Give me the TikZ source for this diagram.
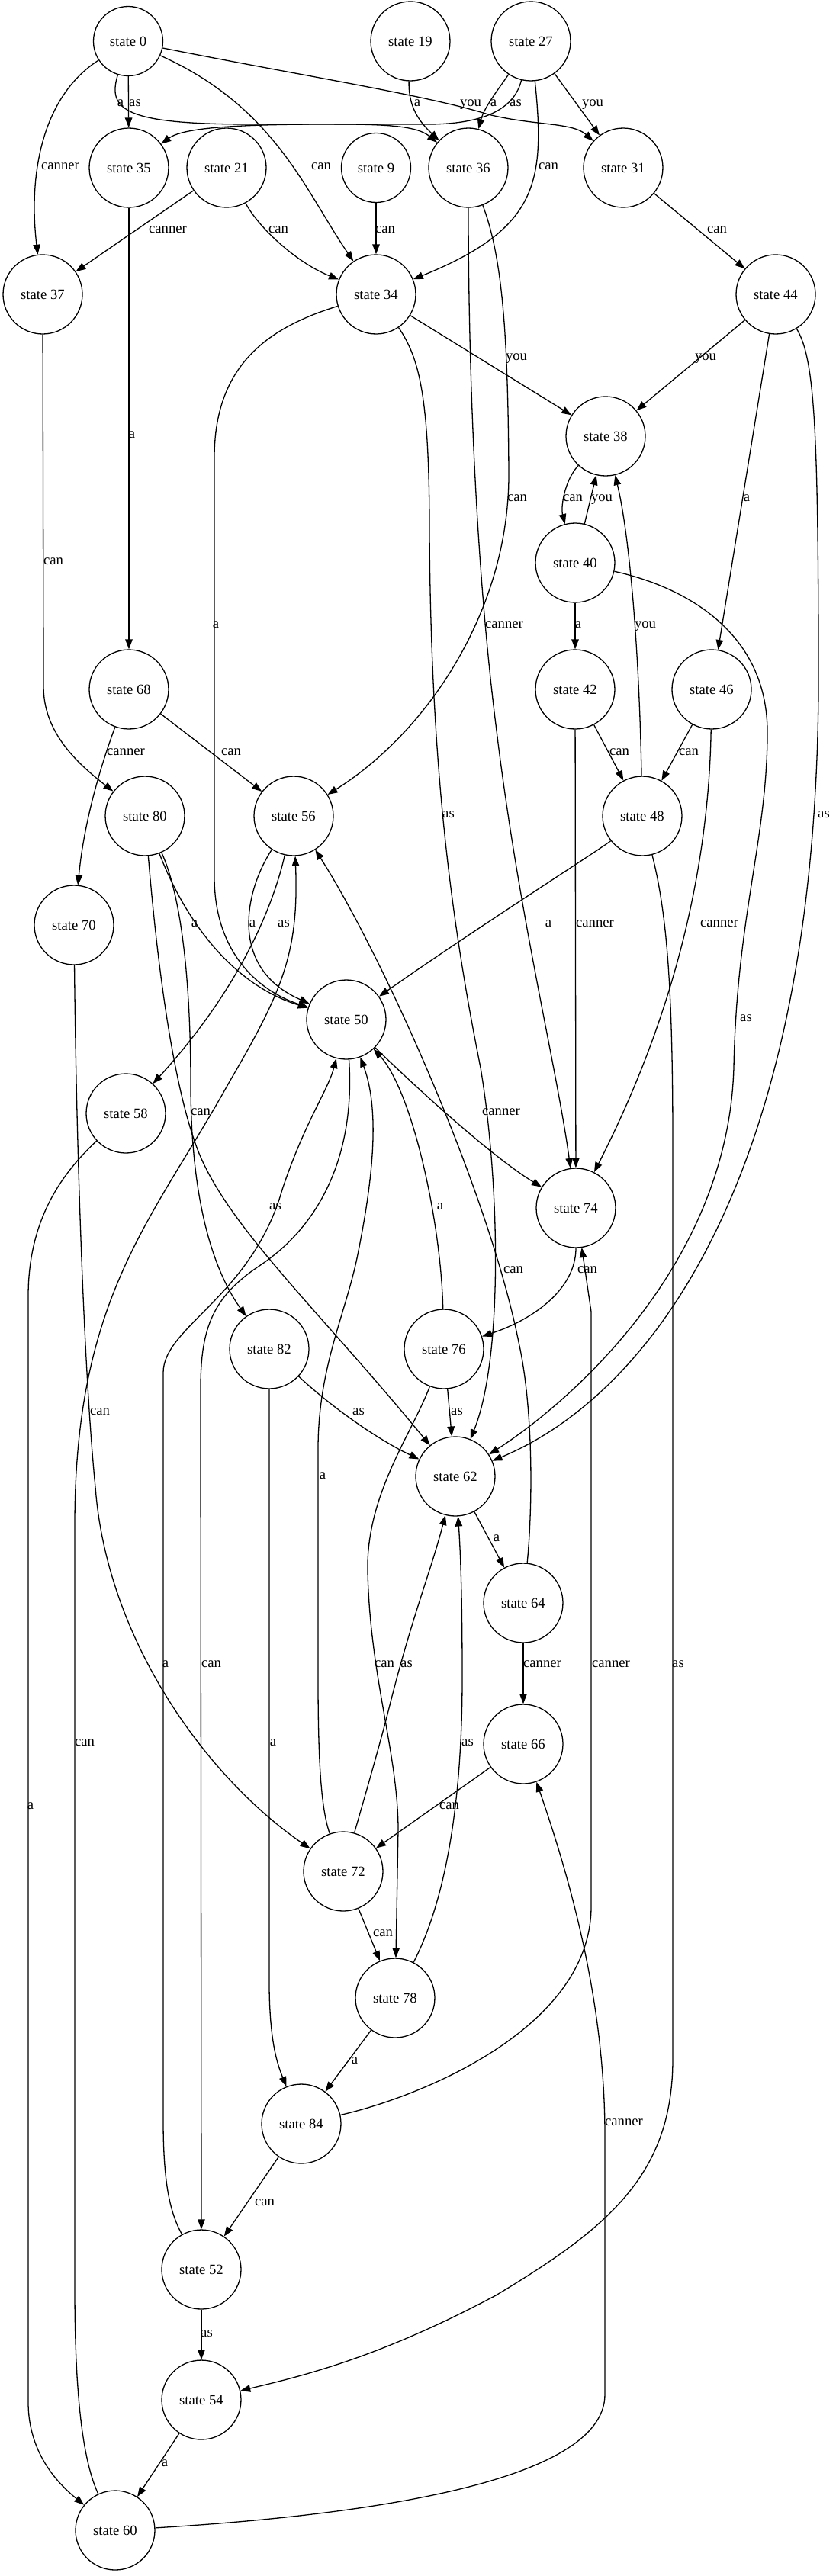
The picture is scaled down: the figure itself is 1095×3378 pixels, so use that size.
\documentclass[tikz,border=0pt]{standalone}
\usepackage{fontspec}
\setmainfont{Liberation Serif}
\usetikzlibrary{arrows.meta}
\begin{document}
\begin{tikzpicture}[x=1pt,y=-1pt,
  st/.style={circle, draw, line width=1.3pt, minimum size=104pt, inner sep=0pt, font=\fontsize{18.67}{22}\selectfont},
  sm/.style={st, minimum size=91pt},
  lbl/.style={inner sep=0pt, text height=1ex, text depth=0pt, anchor=center, font=\fontsize{18.67}{22}\selectfont},
  edg/.style={-{Triangle[length=13pt,width=9.5pt]}, line width=1.3pt}]
\useasboundingbox (0,0) rectangle (1095,3378);
% nodes
\node[sm] (n0) at (168,54) {state 0};
\node[st] (n19) at (538,54) {state 19};
\node[st] (n27) at (696,54) {state 27};
\node[st] (n35) at (169,220) {state 35};
\node[st] (n21) at (297,220) {state 21};
\node[sm] (n9) at (493,220) {state 9};
\node[st] (n36) at (614,220) {state 36};
\node[st] (n31) at (817,220) {state 31};
\node[st] (n37) at (56,386) {state 37};
\node[st] (n34) at (493,386) {state 34};
\node[st] (n44) at (1017,386) {state 44};
\node[st] (n38) at (794,572) {state 38};
\node[st] (n40) at (754,738) {state 40};
\node[st] (n68) at (169,904) {state 68};
\node[st] (n42) at (754,904) {state 42};
\node[st] (n46) at (933,904) {state 46};
\node[st] (n80) at (190,1070) {state 80};
\node[st] (n56) at (385,1070) {state 56};
\node[st] (n48) at (842,1070) {state 48};
\node[st] (n70) at (97,1213) {state 70};
\node[st] (n50) at (454,1337) {state 50};
\node[st] (n58) at (165,1460) {state 58};
\node[st] (n74) at (755,1584) {state 74};
\node[st] (n82) at (353,1769) {state 82};
\node[st] (n76) at (582,1769) {state 76};
\node[st] (n62) at (597,1936) {state 62};
\node[st] (n64) at (686,2102) {state 64};
\node[st] (n66) at (686,2287) {state 66};
\node[st] (n72) at (450,2454) {state 72};
\node[st] (n78) at (518,2620) {state 78};
\node[st] (n84) at (395,2785) {state 84};
\node[st] (n52) at (264,2976) {state 52};
\node[st] (n54) at (264,3147) {state 54};
\node[st] (n60) at (151,3318) {state 60};
% edges
\draw[edg] (n0) .. controls (50,130) and (38,240) .. (n37);
\draw[edg] (n0) -- (n35);
\draw[edg] (n0) .. controls (140,145) and (165,163) .. (330,163) .. controls (480,163) and (540,160) .. (n36);
\draw[edg] (n0) .. controls (360,140) and (400,250) .. (n34);
\draw[edg] (n0) .. controls (400,100) and (560,125) .. (640,150) .. controls (700,165) and (750,160) .. (n31);
\draw[edg] (n19) .. controls (535,140) and (550,160) .. (n36);
\draw[edg] (n27) .. controls (655,115) and (635,140) .. (n36);
\draw[edg] (n27) .. controls (675,140) and (640,163) .. (560,163) .. controls (400,163) and (250,160) .. (n35);
\draw[edg] (n27) .. controls (715,240) and (705,300) .. (n34);
\draw[edg] (n27) -- (n31);
\draw[edg] (n21) -- (n37);
\draw[edg] (n21) .. controls (340,300) and (390,345) .. (n34);
\draw[edg] (n9) -- (n34);
\draw[edg] (n31) -- (n44);
\draw[edg] (n34) -- (n38);
\draw[edg] (n44) -- (n38);
\draw[edg] (n44) -- (n46);
\draw[edg] (n44) .. controls (1068,470) and (1073,560) .. (1073,900) .. controls (1070,1550) and (850,1830) .. (n62);
\draw[edg] (n34) .. controls (350,430) and (281,480) .. (281,600) -- (281,1150) .. controls (281,1250) and (340,1300) .. (n50);
\draw[edg] (n34) .. controls (550,470) and (563,520) .. (563,700) .. controls (565,1000) and (590,1200) .. (630,1400) .. controls (655,1550) and (660,1780) .. (n62);
\draw[edg] (n36) .. controls (660,340) and (666,450) .. (667,620) .. controls (668,800) and (560,960) .. (n56);
\draw[edg] (n36) .. controls (614,500) and (625,750) .. (650,950) .. controls (680,1200) and (730,1400) .. (n74);
\draw[edg] (n38) .. controls (740,630) and (735,665) .. (n40);
\draw[edg] (n40) -- (n38);
\draw[edg] (n48) .. controls (838,850) and (825,700) .. (n38);
\draw[edg] (n40) -- (n42);
\draw[edg] (n40) .. controls (900,770) and (1006,830) .. (1006,960) .. controls (1006,1100) and (966,1200) .. (962,1400) .. controls (955,1650) and (760,1830) .. (n62);
\draw[edg] (n42) -- (n48);
\draw[edg] (n46) -- (n48);
\draw[edg] (n42) -- (n74);
\draw[edg] (n46) .. controls (930,1100) and (900,1300) .. (n74);
\draw[edg] (n48) .. controls (785,1115) and (620,1220) .. (n50);
\draw[edg] (n48) .. controls (875,1200) and (882,1300) .. (882,1500) -- (882,2700) .. controls (882,2850) and (800,2920) .. (650,3010) .. controls (500,3090) and (400,3115) .. (n54);
\draw[edg] (n37) -- (57,900) .. controls (57,960) and (100,1000) .. (n80);
\draw[edg] (n35) -- (n68);
\draw[edg] (n68) .. controls (130,1010) and (110,1080) .. (n70);
\draw[edg] (n68) -- (n56);
\draw[edg] (n80) .. controls (240,1200) and (300,1290) .. (n50);
\draw[edg] (n80) .. controls (205,1250) and (225,1420) .. (260,1510) .. controls (300,1610) and (420,1720) .. (n62);
\draw[edg] (n80) .. controls (240,1180) and (250,1300) .. (250,1420) .. controls (250,1600) and (290,1680) .. (n82);
\draw[edg] (n56) .. controls (320,1170) and (300,1270) .. (n50);
\draw[edg] (n56) .. controls (360,1180) and (320,1290) .. (n58);
\draw[edg] (n60) .. controls (110,3230) and (98,3150) .. (98,3000) -- (98,2000) .. controls (98,1700) and (200,1600) .. (300,1420) .. controls (370,1300) and (392,1250) .. (n56);
\draw[edg] (n50) .. controls (560,1440) and (650,1520) .. (n74);
\draw[edg] (n76) .. controls (578,1600) and (540,1430) .. (n50);
\draw[edg] (n52) .. controls (222,2900) and (214,2860) .. (214,2780) -- (214,1800) .. controls (214,1740) and (330,1700) .. (370,1560) .. controls (400,1470) and (430,1430) .. (n50);
\draw[edg] (n50) .. controls (465,1500) and (430,1600) .. (340,1660) .. controls (280,1700) and (263,1740) .. (263,1820) -- (n52);
\draw[edg] (n72) .. controls (420,2370) and (417,2300) .. (417,2200) -- (417,1900) .. controls (417,1790) and (455,1720) .. (470,1640) .. controls (492,1530) and (496,1450) .. (n50);
\draw[edg] (n70) .. controls (100,1500) and (110,1800) .. (125,1950) .. controls (140,2150) and (270,2330) .. (n72);
\draw[edg] (n58) .. controls (80,1540) and (37,1600) .. (37,1700) -- (37,3150) .. controls (37,3220) and (80,3260) .. (n60);
\draw[edg] (n74) .. controls (755,1690) and (700,1730) .. (n76);
\draw[edg] (n64) .. controls (698,1980) and (700,1850) .. (680,1760) .. controls (640,1560) and (500,1250) .. (n56);
\draw[edg] (n82) .. controls (440,1850) and (500,1890) .. (n62);
\draw[edg] (n82) -- (353,2600) .. controls (353,2680) and (365,2710) .. (n84);
\draw[edg] (n76) -- (n62);
\draw[edg] (n76) .. controls (540,1880) and (480,1960) .. (482,2060) .. controls (485,2200) and (522,2300) .. (522,2400) -- (n78);
\draw[edg] (n72) .. controls (480,2350) and (500,2280) .. (510,2240) .. controls (540,2120) and (565,2060) .. (n62);
\draw[edg] (n78) .. controls (580,2500) and (606,2380) .. (606,2200) .. controls (606,2100) and (604,2040) .. (n62);
\draw[edg] (n62) -- (n64);
\draw[edg] (n64) -- (n66);
\draw[edg] (n66) -- (n72);
\draw[edg] (n84) .. controls (550,2750) and (775,2660) .. (775,2500) -- (775,1720) -- (n74);
\draw[edg] (n60) .. controls (450,3300) and (793,3260) .. (793,3140) -- (793,2800) .. controls (793,2650) and (760,2500) .. (n66);
\draw[edg] (n72) -- (n78);
\draw[edg] (n78) -- (n84);
\draw[edg] (n84) -- (n52);
\draw[edg] (n52) -- (n54);
\draw[edg] (n54) -- (n60);
% labels
\node[lbl] (l1) at (158,137) {a};
\node[lbl] (l2) at (177,137) {as};
\node[lbl] (l3) at (79,220) {canner};
\node[lbl] (l4) at (421,220) {can};
\node[lbl] (l5) at (547,137) {a};
\node[lbl] (l6) at (617,137) {you};
\node[lbl] (l7) at (647,137) {a};
\node[lbl] (l8) at (676,137) {as};
\node[lbl] (l9) at (719,220) {can};
\node[lbl] (l10) at (777,137) {you};
\node[lbl] (l11) at (220,303) {canner};
\node[lbl] (l12) at (365,303) {can};
\node[lbl] (l13) at (505,303) {can};
\node[lbl] (l14) at (940,303) {can};
\node[lbl] (l15) at (677,470) {you};
\node[lbl] (l16) at (925,470) {you};
\node[lbl] (l17) at (70,738) {can};
\node[lbl] (l18) at (173,572) {a};
\node[lbl] (l19) at (283,821) {a};
\node[lbl] (l20) at (678,655) {can};
\node[lbl] (l21) at (751,655) {can};
\node[lbl] (l22) at (789,655) {you};
\node[lbl] (l23) at (979,655) {a};
\node[lbl] (l24) at (661,821) {canner};
\node[lbl] (l25) at (758,821) {a};
\node[lbl] (l26) at (846,821) {you};
\node[lbl] (l27) at (165,988) {canner};
\node[lbl] (l28) at (303,988) {can};
\node[lbl] (l29) at (812,988) {can};
\node[lbl] (l30) at (903,988) {can};
\node[lbl] (l31) at (588,1070) {as};
\node[lbl] (l32) at (1080,1070) {as};
\node[lbl] (l33) at (255,1213) {a};
\node[lbl] (l34) at (331,1213) {a};
\node[lbl] (l35) at (372,1213) {as};
\node[lbl] (l36) at (719,1213) {a};
\node[lbl] (l37) at (780,1213) {canner};
\node[lbl] (l38) at (943,1213) {canner};
\node[lbl] (l39) at (978,1337) {as};
\node[lbl] (l40) at (263,1460) {can};
\node[lbl] (l41) at (657,1460) {canner};
\node[lbl] (l42) at (361,1584) {as};
\node[lbl] (l43) at (577,1584) {a};
\node[lbl] (l44) at (673,1667) {can};
\node[lbl] (l45) at (770,1667) {can};
\node[lbl] (l46) at (131,1853) {can};
\node[lbl] (l47) at (470,1853) {as};
\node[lbl] (l48) at (599,1853) {as};
\node[lbl] (l49) at (423,1937) {a};
\node[lbl] (l50) at (651,2019) {a};
\node[lbl] (l51) at (217,2184) {a};
\node[lbl] (l52) at (277,2184) {can};
\node[lbl] (l53) at (504,2184) {can};
\node[lbl] (l54) at (533,2184) {as};
\node[lbl] (l55) at (711,2184) {canner};
\node[lbl] (l56) at (801,2184) {canner};
\node[lbl] (l57) at (889,2184) {as};
\node[lbl] (l58) at (111,2287) {can};
\node[lbl] (l59) at (358,2287) {a};
\node[lbl] (l60) at (613,2287) {as};
\node[lbl] (l61) at (40,2370) {a};
\node[lbl] (l62) at (589,2370) {can};
\node[lbl] (l63) at (502,2537) {can};
\node[lbl] (l64) at (465,2704) {a};
\node[lbl] (l65) at (818,2785) {canner};
\node[lbl] (l66) at (347,2890) {can};
\node[lbl] (l67) at (271,3062) {as};
\node[lbl] (l68) at (216,3232) {a};
\end{tikzpicture}
\end{document}
